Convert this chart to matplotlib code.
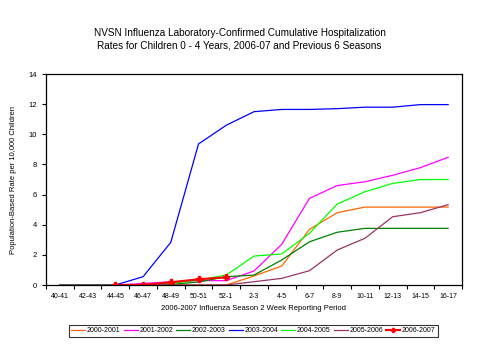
import numpy as np
import matplotlib
matplotlib.use("Agg")
import matplotlib.pyplot as plt

periods = ["40-41", "42-43", "44-45", "46-47", "48-49", "50-51", "52-1", "2-3",
           "4-5", "6-7", "8-9", "10-11", "12-13", "14-15", "16-17"]

nan = np.nan
s2000 = [0, 0, 0, 0, 0, 0, 0, 0.6, 1.26, 3.69, 4.8, 5.17, 5.17, 5.17, 5.17]
s2001 = [0, 0, 0, 0.1, 0.22, 0.29, 0.29, 0.93, 2.7, 5.75, 6.6, 6.85, 7.28, 7.79, 8.47]
s2002 = [0, 0, 0, 0, 0.04, 0.2, 0.55, 0.66, 1.66, 2.87, 3.5, 3.76, 3.76, 3.76, 3.76]
s2003 = [0, 0, 0, 0.55, 2.83, 9.36, 10.6, 11.5, 11.65, 11.65, 11.7, 11.8, 11.8, 11.97, 11.97]
s2004 = [0, 0, 0, 0, 0.1, 0.33, 0.66, 1.92, 2.06, 3.43, 5.37, 6.19, 6.74, 7.0, 7.0]
s2005 = [0, 0, 0, 0, 0, 0, 0, 0.22, 0.44, 0.95, 2.32, 3.1, 4.53, 4.8, 5.33]
s2006 = [nan, nan, 0, 0, 0.18, 0.38, 0.51, nan, nan, nan, nan, nan, nan, nan, nan]

seasons = ["2000-2001", "2001-2002", "2002-2003", "2003-2004", "2004-2005", "2005-2006", "2006-2007"]
colors = ["#FF6600", "#FF00FF", "#008000", "#0000FF", "#00FF00", "#993366", "#FF0000"]
series = [s2000, s2001, s2002, s2003, s2004, s2005, s2006]

plt.rcParams["font.family"] = ["Liberation Sans", "DejaVu Sans"]

fig = plt.figure(figsize=(4.79, 3.6), dpi=100)
ax = fig.add_axes([0.096, 0.2083, 0.8685, 0.5861])

x = np.arange(len(periods))
for name, col, vals in zip(seasons, colors, series):
    if name == "2006-2007":
        ax.plot(x, vals, color=col, lw=1.5, marker="P", ms=5, label=name)
    else:
        ax.plot(x, vals, color=col, lw=0.9, label=name)

ax.set_xlim(-0.5, len(periods) - 0.5)
ax.set_ylim(0, 14)
ax.set_yticks(range(0, 15, 2))
ax.set_xticks(np.arange(-0.5, len(periods), 1))
ax.set_xticklabels([])
ax.set_xticks(x, minor=True)
ax.set_xticklabels(periods, minor=True)
ax.tick_params(axis="x", which="major", length=3, direction="out", width=0.8)
ax.tick_params(axis="x", which="minor", length=0, labelsize=5, pad=6)
ax.tick_params(axis="y", length=3, direction="out", labelsize=5.5, width=0.8)
for sp in ax.spines.values():
    sp.set_linewidth(0.9)

ax.set_ylabel("Population-Based Rate per 10,000 Children", fontsize=5.5, labelpad=8)
ax.set_xlabel("2006-2007 Influenza Season 2 Week Reporting Period", fontsize=5.5, labelpad=3)

fig.text(0.5, 0.89, "NVSN Influenza Laboratory-Confirmed Cumulative Hospitalization\n"
         "Rates for Children 0 - 4 Years, 2006-07 and Previous 6 Seasons",
         ha="center", va="center", fontsize=7.2, linespacing=1.35)

leg = fig.legend(loc="center", bbox_to_anchor=(0.529, 0.0806), ncol=7, fontsize=5,
                 frameon=True, fancybox=False, edgecolor="black", handlelength=2.0,
                 handletextpad=0.25, columnspacing=0.45, borderpad=0.4, markerscale=0.6)
leg.get_frame().set_linewidth(0.8)

fig.savefig("out.png", dpi=100)
